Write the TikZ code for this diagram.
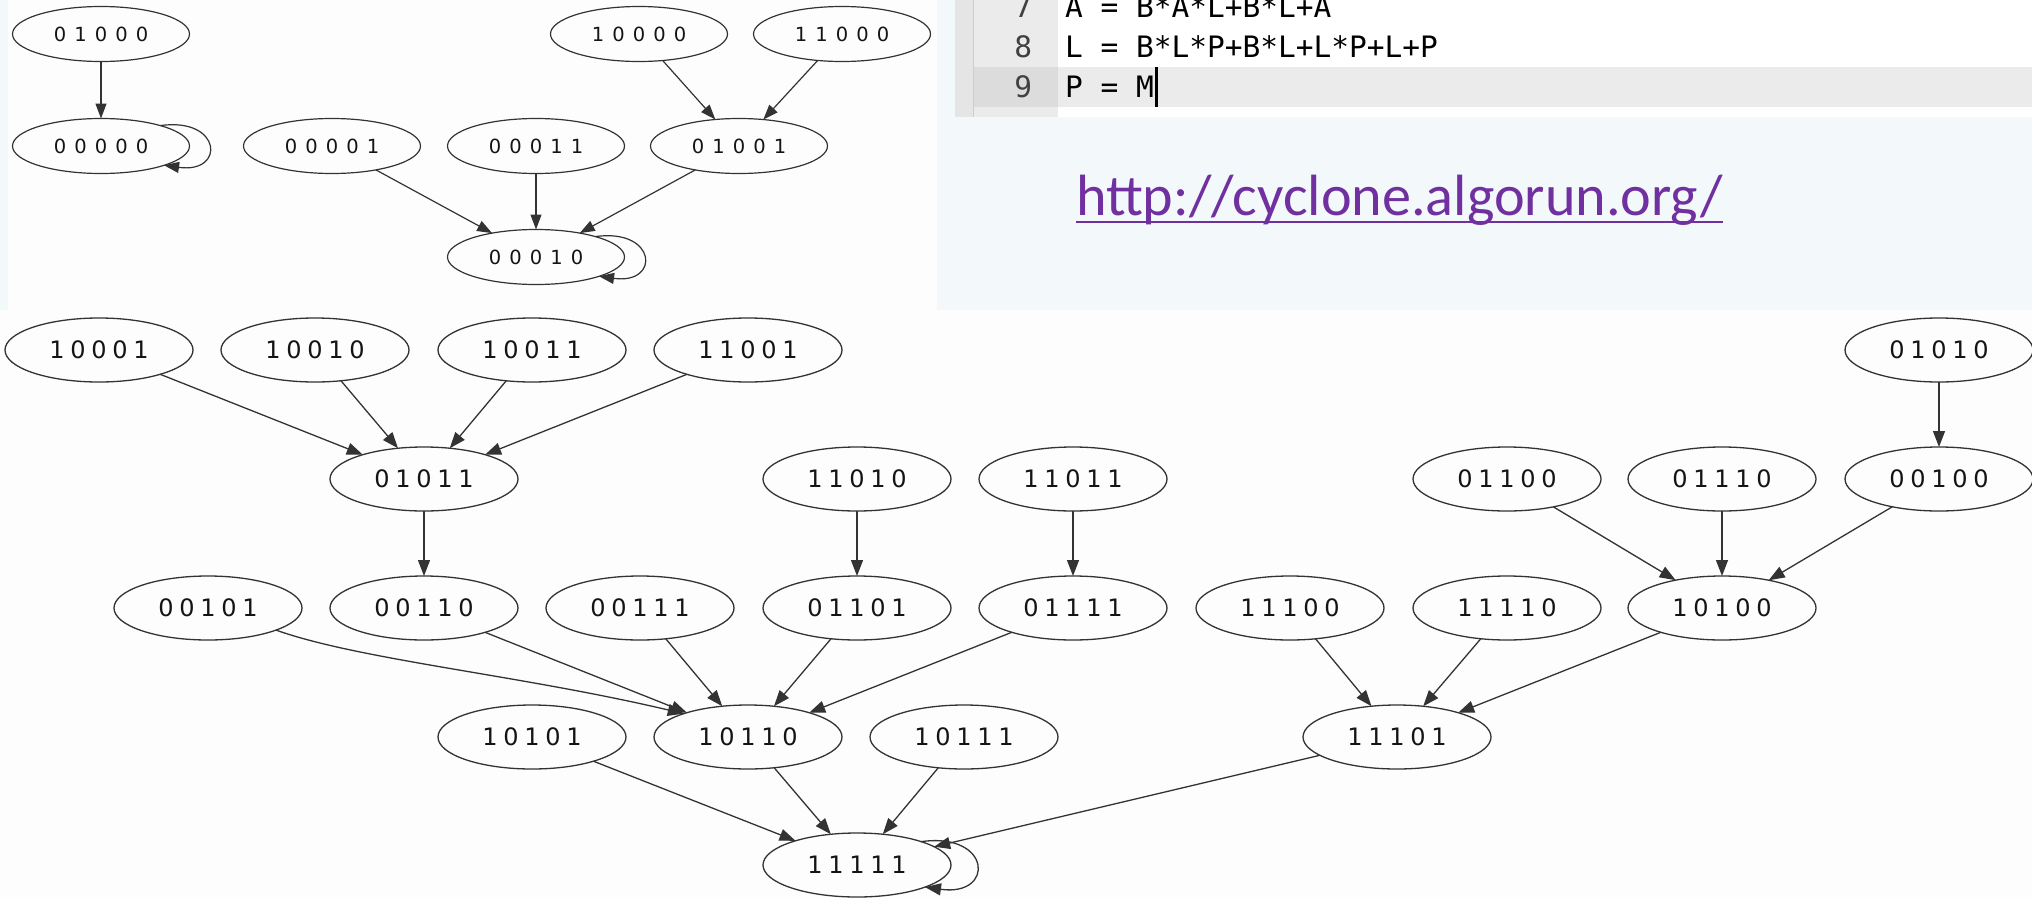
\documentclass[tikz,border=0pt]{standalone}
\usepackage{fontspec}
\usetikzlibrary{arrows.meta,shapes.geometric}

\newfontfamily\graphfont{DejaVu Sans}
\newfontfamily\codefont{DejaVu Sans Mono}
\newfontfamily\linkfont{Carlito}

\definecolor{slidebg}{RGB}{243,248,251}
\definecolor{shotbg}{RGB}{253,253,253}
\definecolor{gutterbg}{RGB}{235,235,235}
\definecolor{gutterstrip}{RGB}{229,229,229}
\definecolor{gutterline}{RGB}{205,205,205}
\definecolor{gutterhl}{RGB}{220,220,220}
\definecolor{rowhl}{RGB}{235,235,235}
\definecolor{linkpurple}{RGB}{112,48,160}

% state labels: each bit set in a box of fixed pitch
\newlength\bitpitch
\makeatletter
\def\bits#1{\bits@#1\@nil}
\def\bits@#1{\ifx#1\@nil\else\makebox[\bitpitch]{#1}\expandafter\bits@\fi}
\makeatother
\newcommand\smallgraphfont{\graphfont\fontsize{19.5}{20}\selectfont\setlength\bitpitch{20.5pt}}
\newcommand\largegraphfont{\graphfont\fontsize{24}{25}\selectfont\setlength\bitpitch{21pt}}

\begin{document}
\begin{tikzpicture}[x=1pt,y=1pt,
  every node/.style={inner sep=0pt, outer sep=0pt},
  tnode/.style={ellipse, draw=black!80, line width=1.2pt, minimum width=177pt,
    minimum height=55pt, text=black!92, font=\smallgraphfont},
  lnode/.style={ellipse, draw=black!80, line width=1.3pt, minimum width=188pt,
    minimum height=64pt, text=black!92, font=\largegraphfont},
  tedge/.style={draw=black!80, line width=1.2pt, -{Triangle[length=15pt,width=11pt]}},
  ledge/.style={draw=black!80, line width=1.3pt, -{Triangle[length=16pt,width=12pt]}},
  codeline/.style={anchor=base west, font=\codefont\fontsize{29.5}{30}\selectfont, text=black},
  lineno/.style={anchor=base east, font=\codefont\fontsize{29.5}{30}\selectfont, text=black!75},
]
\useasboundingbox (0,0) rectangle (2032,-897);
\clip (0,0) rectangle (2032,-897);

% backgrounds
\fill[slidebg] (0,0) rectangle (2032,-897);
\fill[shotbg] (8,0) rectangle (937,-310);
\fill[white] (955,0) rectangle (2032,-117);
\fill[rowhl] (1058,-67) rectangle (2032,-107);
\fill[gutterstrip] (955,0) rectangle (973,-117);
\fill[gutterbg] (973,0) rectangle (1058,-117);
\fill[gutterhl] (974,-67) rectangle (1058,-107);
\draw[gutterline, line width=1.2pt] (973.5,0) -- (973.5,-117);
\fill[shotbg] (0,-310) rectangle (2032,-897);

% editor lines
\node[lineno] (ln7) at (1032,-17) {7};
\node[lineno] (ln8) at (1032,-57) {8};
\node[lineno] (ln9) at (1032,-97) {9};
\node[codeline] (c7) at (1065,-17) {A = B*A*L+B*L+A};
\node[codeline] (c8) at (1065,-57) {L = B*L*P+B*L+L*P+L+P};
\node[codeline] (c9) at (1065,-97) {P = M};
\fill[black] (1155,-67) rectangle (1157.5,-107);

% link
\node[anchor=base west, font=\linkfont\fontsize{50}{50}\selectfont, text=linkpurple]
  (url) at (1076,-215) {\resizebox{647pt}{!}{http://cyclone.algorun.org/}};
\draw[linkpurple, line width=2.5pt] ([yshift=-7pt]url.base west) -- ([yshift=-7pt]url.base east);

% small graph
\node[tnode] (n01000) at (101,-34) {\bits{01000}};
\node[tnode] (n00000) at (101,-146) {\bits{00000}};
\node[tnode] (n10000) at (639,-34) {\bits{10000}};
\node[tnode] (n11000) at (842,-34) {\bits{11000}};
\node[tnode] (n00001) at (332,-146) {\bits{00001}};
\node[tnode] (n00011) at (536,-146) {\bits{00011}};
\node[tnode] (n01001) at (739,-146) {\bits{01001}};
\node[tnode] (n00010) at (536,-257) {\bits{00010}};

\draw[tedge] (n01000) -- (n00000);
\draw[tedge] (n10000) -- (n01001);
\draw[tedge] (n11000) -- (n01001);
\draw[tedge] (n00001) -- (n00010);
\draw[tedge] (n00011) -- (n00010);
\draw[tedge] (n01001) -- (n00010);
\draw[tedge] (n00000.19) to[out=8,in=-8,looseness=4] (n00000.-17);
\draw[tedge] (n00010.19) to[out=8,in=-8,looseness=4] (n00010.-17);

% large graph
\node[lnode] (n10001) at (99,-350) {\bits{10001}};
\node[lnode] (n10010) at (315,-350) {\bits{10010}};
\node[lnode] (n10011) at (532,-350) {\bits{10011}};
\node[lnode] (n11001) at (748,-350) {\bits{11001}};
\node[lnode] (n01010) at (1939,-350) {\bits{01010}};

\node[lnode] (n01011) at (424,-479) {\bits{01011}};
\node[lnode] (n11010) at (857,-479) {\bits{11010}};
\node[lnode] (n11011) at (1073,-479) {\bits{11011}};
\node[lnode] (n01100) at (1507,-479) {\bits{01100}};
\node[lnode] (n01110) at (1722,-479) {\bits{01110}};
\node[lnode] (n00100) at (1939,-479) {\bits{00100}};

\node[lnode] (n00101) at (208,-608) {\bits{00101}};
\node[lnode] (n00110) at (424,-608) {\bits{00110}};
\node[lnode] (n00111) at (640,-608) {\bits{00111}};
\node[lnode] (n01101) at (857,-608) {\bits{01101}};
\node[lnode] (n01111) at (1073,-608) {\bits{01111}};
\node[lnode] (n11100) at (1290,-608) {\bits{11100}};
\node[lnode] (n11110) at (1507,-608) {\bits{11110}};
\node[lnode] (n10100) at (1722,-608) {\bits{10100}};

\node[lnode] (n10101) at (532,-737) {\bits{10101}};
\node[lnode] (n10110) at (748,-737) {\bits{10110}};
\node[lnode] (n10111) at (964,-737) {\bits{10111}};
\node[lnode] (n11101) at (1397,-737) {\bits{11101}};

\node[lnode] (n11111) at (857,-865) {\bits{11111}};

\draw[ledge] (n10001) -- (n01011);
\draw[ledge] (n10010) -- (n01011);
\draw[ledge] (n10011) -- (n01011);
\draw[ledge] (n11001) -- (n01011);
\draw[ledge] (n01011) -- (n00110);
\draw[ledge] (n11010) -- (n01101);
\draw[ledge] (n11011) -- (n01111);
\draw[ledge] (n01010) -- (n00100);
\draw[ledge] (n01100) -- (n10100);
\draw[ledge] (n01110) -- (n10100);
\draw[ledge] (n00100) -- (n10100);
\draw[ledge] (n00101.-18) .. controls (360,-660) and (520,-675) .. (n10110.160);
\draw[ledge] (n00110) -- (n10110);
\draw[ledge] (n00111) -- (n10110);
\draw[ledge] (n01101) -- (n10110);
\draw[ledge] (n01111) -- (n10110);
\draw[ledge] (n11100) -- (n11101);
\draw[ledge] (n11110) -- (n11101);
\draw[ledge] (n10100) -- (n11101);
\draw[ledge] (n10101) -- (n11111);
\draw[ledge] (n10110) -- (n11111);
\draw[ledge] (n10111) -- (n11111);
\draw[ledge] (n11101) -- (n11111);
\draw[ledge] (n11111.20) to[out=8,in=-8,looseness=4] (n11111.-18);
\end{tikzpicture}
\end{document}
